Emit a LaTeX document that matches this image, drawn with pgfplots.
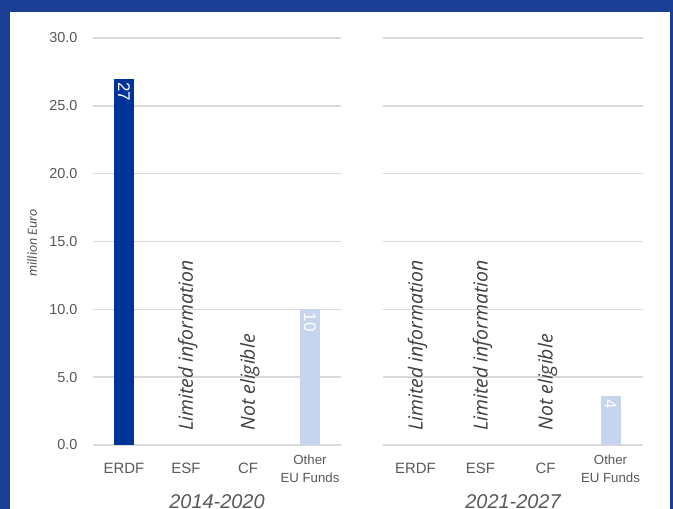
\documentclass[border=0pt]{standalone}
\usepackage{fontspec}
\setmainfont{Liberation Sans}
\newfontfamily\osans{Open Sans}
\newfontfamily\carlito{Carlito}
\usepackage{pgfplots}
\pgfplotsset{compat=1.18}
\definecolor{bgblue}{HTML}{1A3F94}
\definecolor{darkbar}{HTML}{003399}
\definecolor{lightbar}{HTML}{C6D4EE}
\definecolor{gridgray}{HTML}{D9D9D9}
\definecolor{labgray}{HTML}{595959}
\definecolor{txtgray}{HTML}{404040}
\tikzset{
  rot/.style={rotate=90, anchor=west, text=txtgray, inner sep=0pt, font=\osans\itshape\fontsize{19.5}{22}\selectfont},
  oth/.style={align=center, text=labgray, font=\fontsize{13.3}{19}\selectfont, inner sep=0pt},
}
\pgfplotsset{
  panel/.style={
    anchor=south west, scale only axis, height=407bp,
    xmin=-0.5, xmax=3.5, ymin=0, ymax=30,
    ytick={0,5,...,30},
    ymajorgrids, grid style={draw=gridgray, line width=1.5bp},
    axis x line*=bottom, axis y line*=left,
    x axis line style={draw=gridgray, line width=2bp, -},
    y axis line style={draw=none},
    major tick length=0pt, tick style={draw=none},
    xtick={0,1,2,3},
    xticklabels={ERDF,ESF,CF,{}},
    xticklabel style={anchor=center, yshift=-23.5bp, font=\fontsize{15}{18}\selectfont, text=labgray},
    yticklabel style={font=\fontsize{14.5}{17}\selectfont, text=labgray, xshift=-12bp, /pgf/number format/.cd, fixed, fixed zerofill, precision=1},
    /pgf/number format/assume math mode=true,
    ybar, bar width=20bp,
    nodes near coords,
    nodes near coords style={rotate=-90, anchor=west, text=white, font=\fontsize{17}{20}\selectfont, /pgf/number format/.cd, fixed, precision=0, assume math mode=true},
    clip=false,
  },
}
\begin{document}
\begin{tikzpicture}[x=1bp,y=1bp]
\useasboundingbox (0,0) rectangle (673,509);
\fill[bgblue] (0,0) rectangle (673,509);
\fill[white] (10,0) rectangle (670,497);
\begin{axis}[panel, at={(93bp,64bp)}, width=248bp]
\addplot[fill=darkbar, draw=none, bar shift=0pt] coordinates {(0,27)};
\addplot[fill=lightbar, draw=none, bar shift=0pt] coordinates {(3,10)};
\node[rot] at (axis cs:1.03,1.05) {Limited information};
\node[rot] at (axis cs:2.03,1.05) {Not eligible};
\node[oth] at (axis cs:3,-1.75) {Other\\EU Funds};
\end{axis}
\begin{axis}[panel, at={(383bp,64bp)}, width=260bp, yticklabels={}]
\addplot[fill=lightbar, draw=none, bar shift=0pt] coordinates {(3,3.6)};
\node[rot] at (axis cs:0.03,1.05) {Limited information};
\node[rot] at (axis cs:1.03,1.05) {Limited information};
\node[rot] at (axis cs:2.03,1.05) {Not eligible};
\node[oth] at (axis cs:3,-1.75) {Other\\EU Funds};
\end{axis}
\node[rotate=90, text=labgray, font=\carlito\itshape\fontsize{14}{16}\selectfont] at (32,266) {million Euro};
\node[text=labgray, font=\itshape\fontsize{20}{23}\selectfont] at (217,7) {2014-2020};
\node[text=labgray, font=\itshape\fontsize{20}{23}\selectfont] at (513,7) {2021-2027};
\end{tikzpicture}
\end{document}
